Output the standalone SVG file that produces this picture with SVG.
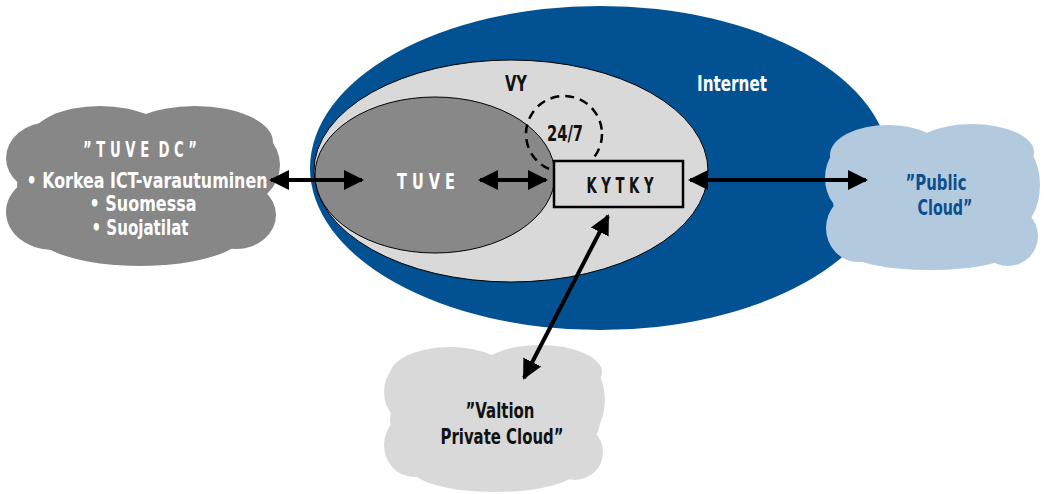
<svg xmlns="http://www.w3.org/2000/svg" width="1050" height="494" viewBox="0 0 1050 494">
  <defs>
    <style>
      text { font-family: "DejaVu Sans Condensed", "Liberation Sans", sans-serif; font-weight: bold; text-anchor: middle; font-size: 21px; white-space: pre; }
      .w { fill: #ffffff; }
      .k { fill: #111111; }
      .b { fill: #0b4f8f; }
      .conn { stroke: #000; stroke-width: 4; fill: none; marker-start: url(#ah); marker-end: url(#ah); }
    </style>
    <marker id="ah" viewBox="0 0 10 10" refX="9" refY="5" markerWidth="5" markerHeight="6.5" orient="auto-start-reverse" markerUnits="strokeWidth">
      <path d="M0,0 L10,5 L0,10 Z" fill="#000"/>
    </marker>
  </defs>
  <rect width="1050" height="494" fill="#ffffff"/>

  <!-- Internet -->
  <g id="internet">
    <ellipse cx="600" cy="168" rx="290" ry="162" fill="#025192"/>
    <text class="w" x="732" y="91" textLength="70" lengthAdjust="spacingAndGlyphs">Internet</text>
  </g>

  <!-- VY -->
  <g id="vy">
    <ellipse cx="511" cy="171" rx="197" ry="111" fill="#d9d9d9" stroke="#000" stroke-width="1"/>
    <text class="k" x="516" y="91" textLength="22" lengthAdjust="spacingAndGlyphs">VY</text>
  </g>

  <!-- TUVE -->
  <g id="tuve">
    <ellipse cx="435" cy="175" rx="120" ry="78" fill="#888888" stroke="#000" stroke-width="1"/>
    <text class="w" x="426" y="189" font-size="23" textLength="58" lengthAdjust="spacingAndGlyphs">T U V E</text>
  </g>

  <!-- 24/7 service area -->
  <g id="service247">
    <circle cx="564" cy="134" r="38" fill="none" stroke="#000" stroke-width="2.5" stroke-dasharray="9 6"/>
    <text class="k" x="565" y="141" textLength="36" lengthAdjust="spacingAndGlyphs">24/7</text>
  </g>

  <!-- KYTKY -->
  <g id="kytky">
    <rect x="554" y="161" width="129" height="46" fill="#d9d9d9" stroke="#000" stroke-width="2.5"/>
    <text class="k" x="620" y="193" font-size="22" textLength="67" lengthAdjust="spacingAndGlyphs">K Y T K Y</text>
  </g>

  <!-- TUVE DC cloud -->
  <g id="tuve-dc" fill="#878787">
    <ellipse cx="142" cy="185" rx="125" ry="66"/>
    <ellipse cx="100" cy="140" rx="70" ry="34"/>
    <ellipse cx="195" cy="142" rx="78" ry="36"/>
    <ellipse cx="50" cy="158" rx="44" ry="36"/>
    <ellipse cx="52" cy="212" rx="46" ry="38"/>
    <ellipse cx="140" cy="232" rx="105" ry="34"/>
    <ellipse cx="238" cy="165" rx="42" ry="40"/>
    <ellipse cx="236" cy="215" rx="40" ry="34"/>
    <text class="w" x="140" y="157" textLength="114" lengthAdjust="spacingAndGlyphs">” T U V E  D C ”</text>
    <text class="w" x="147" y="188" textLength="241" lengthAdjust="spacingAndGlyphs">• Korkea ICT-varautuminen</text>
    <text class="w" x="143" y="211" textLength="107" lengthAdjust="spacingAndGlyphs">• Suomessa</text>
    <text class="w" x="140" y="235" textLength="97" lengthAdjust="spacingAndGlyphs">• Suojatilat</text>
  </g>

  <!-- Public cloud -->
  <g id="public-cloud" fill="#b3cade">
    <ellipse cx="933" cy="200" rx="100" ry="58"/>
    <ellipse cx="888" cy="155" rx="58" ry="30"/>
    <ellipse cx="972" cy="152" rx="62" ry="28"/>
    <ellipse cx="852" cy="178" rx="27" ry="35"/>
    <ellipse cx="858" cy="228" rx="32" ry="34"/>
    <ellipse cx="930" cy="250" rx="84" ry="20"/>
    <ellipse cx="1012" cy="185" rx="28" ry="45"/>
    <ellipse cx="1008" cy="236" rx="30" ry="30"/>
    <text class="b" x="936" y="190" textLength="61" lengthAdjust="spacingAndGlyphs">”Public</text>
    <text class="b" x="945" y="215" textLength="55" lengthAdjust="spacingAndGlyphs">Cloud”</text>
  </g>

  <!-- Valtion private cloud -->
  <g id="private-cloud" fill="#d9d9d9">
    <ellipse cx="495" cy="420" rx="105" ry="58"/>
    <ellipse cx="450" cy="375" rx="60" ry="28"/>
    <ellipse cx="540" cy="372" rx="62" ry="27"/>
    <ellipse cx="412" cy="392" rx="28" ry="32"/>
    <ellipse cx="414" cy="445" rx="30" ry="32"/>
    <ellipse cx="495" cy="468" rx="84" ry="24"/>
    <ellipse cx="578" cy="400" rx="27" ry="40"/>
    <ellipse cx="575" cy="452" rx="28" ry="28"/>
    <text class="k" x="500" y="418" textLength="69" lengthAdjust="spacingAndGlyphs">”Valtion</text>
    <text class="k" x="502" y="444" textLength="123" lengthAdjust="spacingAndGlyphs">Private Cloud”</text>
  </g>

  <!-- connectors -->
  <g id="connectors">
    <line class="conn" x1="271" y1="180" x2="362" y2="180"/>
    <line class="conn" x1="480" y1="180" x2="546" y2="180"/>
    <line class="conn" x1="690" y1="180" x2="866" y2="180"/>
    <line class="conn" x1="608" y1="216" x2="524" y2="378"/>
  </g>
</svg>
